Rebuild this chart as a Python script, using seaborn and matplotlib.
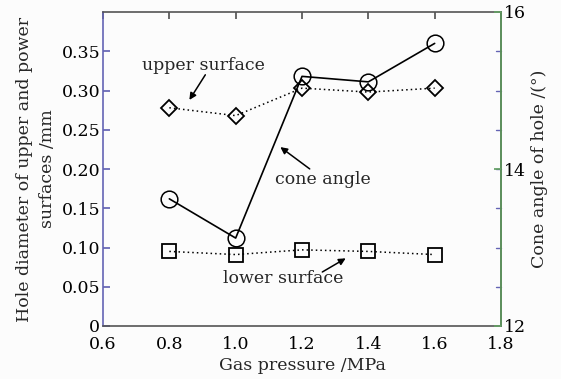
import matplotlib
matplotlib.use("Agg")
import matplotlib.pyplot as plt
import pandas as pd
import seaborn as sns

# --- Data ---
pressure = [0.8, 1.0, 1.2, 1.4, 1.6]           # Gas pressure /MPa
upper_diameter = [0.278, 0.268, 0.303, 0.298, 0.303]   # mm
lower_diameter = [0.095, 0.091, 0.097, 0.095, 0.091]   # mm
cone_angle = [13.62, 13.12, 15.18, 15.11, 15.60]       # degrees

left_ticks = [0, 0.05, 0.10, 0.15, 0.20, 0.25, 0.30, 0.35]
left_labels = ["0", "0.05", "0.10", "0.15", "0.20", "0.25", "0.30", "0.35"]
right_ticks = [12, 14, 16]
x_ticks = [0.6, 0.8, 1.0, 1.2, 1.4, 1.6, 1.8]
x_labels = ["0.6", "0.8", "1.0", "1.2", "1.4", "1.6", "1.8"]

df = pd.DataFrame({
    "pressure": pressure,
    "upper": upper_diameter,
    "lower": lower_diameter,
    "cone": cone_angle,
})

sns.set_theme(style="white")
plt.rcParams["font.family"] = ["DejaVu Serif"]
plt.rcParams["mathtext.fontset"] = "dejavuserif"

BG = "#fcfcfc"
LEFT_C = "#6464b4"
RIGHT_C = "#64a064"
FS = 12.5

fig = plt.figure(figsize=(5.61, 3.79), dpi=100, facecolor=BG)
ax = fig.add_axes([103 / 561, 1 - 326 / 379, 398 / 561, 314 / 379])
ax.set_facecolor(BG)
ax2 = ax.twinx()

# diameters on left axis (dotted)
sns.lineplot(data=df, x="pressure", y="upper", ax=ax, color="black",
             linestyle=(0, (1, 2)), linewidth=1.1, marker="D", markersize=8,
             markerfacecolor="none", markeredgecolor="black", markeredgewidth=1.3)
sns.lineplot(data=df, x="pressure", y="lower", ax=ax, color="black",
             linestyle=(0, (1, 2)), linewidth=1.1, marker="s", markersize=10,
             markerfacecolor="none", markeredgecolor="black", markeredgewidth=1.3)
# cone angle on right axis (solid)
sns.lineplot(data=df, x="pressure", y="cone", ax=ax2, color="black",
             linewidth=1.2, marker="o", markersize=12,
             markerfacecolor="none", markeredgecolor="black", markeredgewidth=1.1)

ax.set_xlim(0.6, 1.8)
ax.set_ylim(0, 0.4)
ax2.set_ylim(12, 16)

ax.set_xticks(x_ticks)
ax.set_xticklabels(x_labels)
ax.set_yticks(left_ticks)
ax.set_yticklabels(left_labels)
ax2.set_yticks(right_ticks)

ax.tick_params(axis="both", direction="in", length=5, labelsize=FS, pad=2,
               top=True, right=False)
ax.tick_params(axis="y", colors=LEFT_C, labelcolor="black")
ax.tick_params(axis="x", colors="#555555", labelcolor="black", pad=7)
ax2.tick_params(axis="y", direction="in", length=5, labelsize=FS, pad=2,
                colors=RIGHT_C, labelcolor="black")

for side in ["top", "bottom"]:
    ax.spines[side].set_color("#555555")
    ax.spines[side].set_linewidth(1.2)
ax.spines["left"].set_color(LEFT_C)
ax.spines["left"].set_linewidth(1.2)
ax2.spines["right"].set_color(RIGHT_C)
ax2.spines["right"].set_linewidth(1.2)
ax2.spines["left"].set_visible(False)
ax2.spines["top"].set_visible(False)
ax2.spines["bottom"].set_visible(False)

# mirror left-axis ticks on the right side (blue)
for t in left_ticks[1:]:
    ax.plot([1.8 - 0.015, 1.8], [t, t], color=LEFT_C, lw=1.0, clip_on=False)

ax.set_xlabel("Gas pressure /MPa", fontsize=FS, labelpad=3)
ax.set_ylabel("Hole diameter of upper and power\nsurfaces /mm", fontsize=FS,
              labelpad=4, linespacing=1.45)
ax2.set_ylabel("Cone angle of hole /(°)", fontsize=FS, labelpad=4)

arrow = dict(arrowstyle="-|>", color="black", lw=1.1, mutation_scale=10)
ax.annotate("", xy=(0.856, 0.285), xytext=(0.913, 0.323), arrowprops=arrow)
ax.text(0.902, 0.332, "upper surface", fontsize=FS, ha="center", va="center")
ax.annotate("", xy=(1.128, 0.230), xytext=(1.230, 0.198), arrowprops=arrow)
ax.text(1.263, 0.187, "cone angle", fontsize=FS, ha="center", va="center")
ax.annotate("", xy=(1.339, 0.088), xytext=(1.254, 0.067), arrowprops=arrow)
ax.text(1.143, 0.060, "lower surface", fontsize=FS, ha="center", va="center")

ax.grid(False)
ax2.grid(False)
for a in (ax, ax2):
    leg = a.get_legend()
    if leg:
        leg.remove()

fig.savefig("out.png", dpi=100, facecolor=BG)
